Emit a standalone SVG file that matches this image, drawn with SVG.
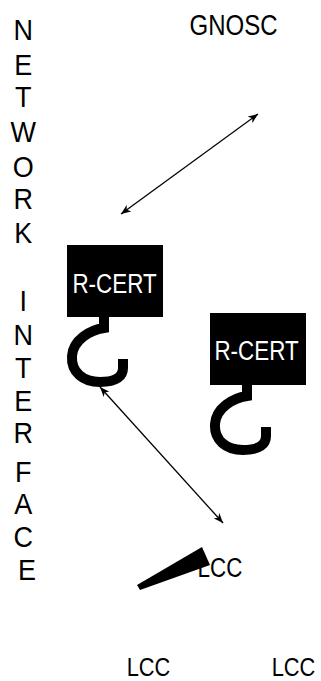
<svg xmlns="http://www.w3.org/2000/svg" width="321" height="681" viewBox="0 0 321 681">
<style>
.t{font-family:"Liberation Sans",Arial,sans-serif;fill:#000;text-anchor:middle}
.w{fill:#fff}
.box{fill:#000}
.hook{fill:none;stroke:#000;stroke-width:10}
.conn{stroke:#000;stroke-width:1.3;fill:none;marker-start:url(#ah);marker-end:url(#ah)}
</style>
<defs>
<marker id="ah" viewBox="0 0 10 8" refX="10" refY="4" markerWidth="10" markerHeight="8" markerUnits="userSpaceOnUse" orient="auto-start-reverse">
<path d="M0,0 L10,4 L0,8 L3,4 z" fill="#000"/>
</marker>
</defs>
<rect width="321" height="681" fill="#fff"/>
<g id="network-interface">
<g transform="translate(27,0) scale(0.9,1)">
<text class="t" font-size="30">
<tspan x="0" y="40">N</tspan>
<tspan x="0" y="75">E</tspan>
<tspan x="0" y="107">T</tspan>
<tspan x="0" y="142">W</tspan>
<tspan x="0" y="177">O</tspan>
<tspan x="0" y="209">R</tspan>
<tspan x="0" y="243">K</tspan>
<tspan x="0" y="311">I</tspan>
<tspan x="0" y="345">N</tspan>
<tspan x="0" y="378">T</tspan>
<tspan x="0" y="411">E</tspan>
<tspan x="0" y="443">R</tspan>
<tspan x="0" y="482">F</tspan>
<tspan x="0" y="514">A</tspan>
<tspan x="0" y="547">C</tspan>
<tspan x="0" y="580">E</tspan>
</text>
</g>
</g>
<g id="gnosc">
<text class="t" font-size="30" transform="translate(233.5,35) scale(0.8,1)">GNOSC</text>
</g>
<g id="rcert1">
<rect class="box" x="67" y="245" width="96" height="72"/>
<path class="hook" d="M104,316 L104,328 C90,330 73,340 72,356 C71,372 83,382 100,382 C117,382 123,376 123,368 L123,359"/>
<text class="t w" font-size="28" transform="translate(114.5,293) scale(0.8,1)">R-CERT</text>
</g>
<g id="rcert2">
<rect class="box" x="210" y="313" width="96" height="72"/>
<path class="hook" transform="translate(143,68)" d="M104,316 L104,328 C90,330 73,340 72,356 C71,372 83,382 100,382 C117,382 123,376 123,368 L123,359"/>
<text class="t w" font-size="28" transform="translate(256.5,360) scale(0.8,1)">R-CERT</text>
</g>
<g id="lcc-wedge">
<polygon points="137,585 202,547 210,565 140,590" fill="#000"/>
<text class="t" font-size="28" transform="translate(220,577) scale(0.8,1)">LCC</text>
</g>
<g id="lcc-left">
<text class="t" font-size="26" transform="translate(148.5,675.5) scale(0.84,1)">LCC</text>
</g>
<g id="lcc-right">
<text class="t" font-size="26" transform="translate(293.5,675.5) scale(0.84,1)">LCC</text>
</g>
<g id="connectors">
<line class="conn" x1="121" y1="214" x2="258" y2="114"/>
<line class="conn" x1="100" y1="387" x2="223" y2="523"/>
</g>
</svg>
